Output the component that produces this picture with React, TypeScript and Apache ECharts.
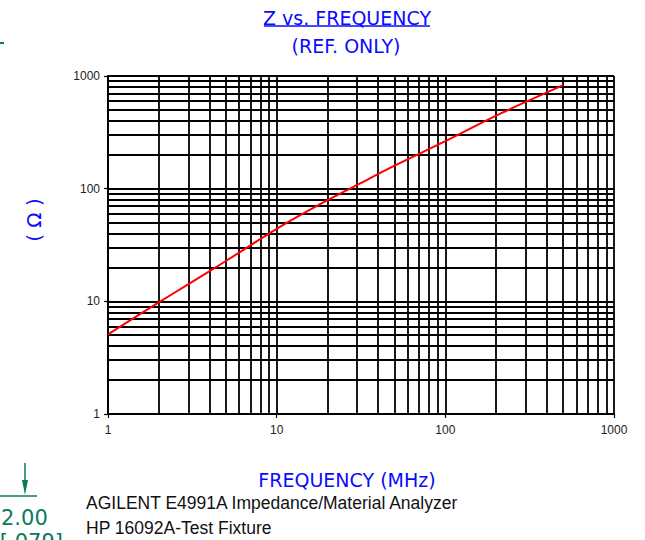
import React, { useEffect, useRef } from "react";
import * as echarts from "echarts";

// Data
const freqMHz = [1, 2, 3, 5, 10, 20, 30, 50, 100, 200, 300, 500];
const impedanceOhm = [5.1, 9.8, 14.2, 22.8, 44, 79, 108, 160, 264, 445, 590, 830];
const minorGridValues = [
  2, 3, 4, 5, 6, 7, 8, 9,
  20, 30, 40, 50, 60, 70, 80, 90,
  200, 300, 400, 500, 600, 700, 800, 900,
];
const xTickLabels = ["1", "10", "100", "1000"];
const yTickLabels = ["1", "10", "100", "1000"];

const titleText = "Z vs. FREQUENCY";
const subTitleText = "(REF. ONLY)";
const xName = "FREQUENCY (MHz)";
const yName = "( Ω )";
const note1 = "AGILENT E4991A Impedance/Material Analyzer";
const note2 = "HP 16092A-Test Fixture";

const BLUE = "#0a0aff";
const GREEN = "#0b7a5c";
const GRID_W = 1.8;

export default function App() {
  const ref = useRef<HTMLDivElement>(null);

  useEffect(() => {
    if (!ref.current) return;
    const chart = echarts.init(ref.current, undefined, { renderer: "svg" });
    const fmt = (v: number) => {
      const s = String(Math.round(v));
      return xTickLabels.includes(s) || yTickLabels.includes(s) ? s : "";
    };
    const markData = [
      ...minorGridValues.map((v) => ({ xAxis: v })),
      ...minorGridValues.map((v) => ({ yAxis: v })),
    ];
    const labelStyle = {
      fontSize: 12,
      fontFamily: "Liberation Sans, Arial, sans-serif",
      color: "#222",
      formatter: fmt,
    };
    const option: any = {
      animation: false,
      grid: { left: 108, right: 31, top: 76, bottom: 126, containLabel: false },
      xAxis: {
        type: "log",
        logBase: 10,
        min: 1,
        max: 1000,
        axisLine: { show: true, onZero: false, lineStyle: { color: "#000", width: 2 } },
        axisTick: { show: true, length: 4, lineStyle: { color: "#000", width: 1.2 } },
        axisLabel: { ...labelStyle, margin: 10 },
        splitLine: { show: true, lineStyle: { color: "#000", width: GRID_W } },
        minorTick: { show: false },
        minorSplitLine: { show: false },
      },
      yAxis: {
        type: "log",
        logBase: 10,
        min: 1,
        max: 1000,
        axisLine: { show: true, onZero: false, lineStyle: { color: "#000", width: 2 } },
        axisTick: { show: true, length: 4, lineStyle: { color: "#000", width: 1.2 } },
        axisLabel: { ...labelStyle, margin: 8 },
        splitLine: { show: true, lineStyle: { color: "#000", width: GRID_W } },
        minorTick: { show: false },
        minorSplitLine: { show: false },
      },
      series: [
        {
          type: "line",
          data: freqMHz.map((f, i) => [f, impedanceOhm[i]]),
          showSymbol: false,
          symbol: "none",
          smooth: 0.3,
          z: 5,
          lineStyle: { color: "#ff0000", width: 2 },
          itemStyle: { color: "#ff0000" },
          markLine: {
            silent: true,
            symbol: ["none", "none"],
            label: { show: false },
            emphasis: { disabled: true },
            lineStyle: { color: "#000", width: GRID_W, type: "solid" },
            data: markData,
            z: 1,
          },
        },
      ],
      graphic: [
        {
          type: "text",
          x: 347,
          y: 17.5,
          style: {
            text: titleText,
            fill: BLUE,
            fontSize: 19,
            fontFamily: "DejaVu Sans",
            align: "center",
            verticalAlign: "middle",
            textAlign: "center",
            textVerticalAlign: "middle",
          },
        },
        {
          type: "line",
          shape: { x1: 264, y1: 26, x2: 430, y2: 26 },
          style: { stroke: BLUE, lineWidth: 1.4 },
        },
        {
          type: "text",
          x: 346,
          y: 45.5,
          style: {
            text: subTitleText,
            fill: BLUE,
            fontSize: 19,
            fontFamily: "DejaVu Sans",
            align: "center",
            verticalAlign: "middle",
            textAlign: "center",
            textVerticalAlign: "middle",
          },
        },
        {
          type: "text",
          x: 347,
          y: 480,
          style: {
            text: xName,
            fill: BLUE,
            fontSize: 19,
            fontFamily: "DejaVu Sans",
            align: "center",
            verticalAlign: "middle",
            textAlign: "center",
            textVerticalAlign: "middle",
          },
        },
        {
          type: "text",
          x: 34,
          y: 220,
          rotation: Math.PI / 2,
          style: {
            text: yName,
            fill: BLUE,
            fontSize: 20,
            fontFamily: "DejaVu Sans",
            align: "center",
            verticalAlign: "middle",
            textAlign: "center",
            textVerticalAlign: "middle",
          },
        },
        {
          type: "text",
          x: 86,
          y: 502.5,
          style: {
            text: note1,
            fill: "#111",
            fontSize: 17.5,
            fontFamily: "Liberation Sans, Arial, sans-serif",
            align: "left",
            verticalAlign: "middle",
            textAlign: "left",
            textVerticalAlign: "middle",
          },
        },
        {
          type: "text",
          x: 86,
          y: 528,
          style: {
            text: note2,
            fill: "#111",
            fontSize: 17.5,
            fontFamily: "Liberation Sans, Arial, sans-serif",
            align: "left",
            verticalAlign: "middle",
            textAlign: "left",
            textVerticalAlign: "middle",
          },
        },
        // fragments of the surrounding drawing (green dimension marks)
        {
          type: "line",
          shape: { x1: 0, y1: 43, x2: 4, y2: 43 },
          style: { stroke: GREEN, lineWidth: 2 },
        },
        {
          type: "line",
          shape: { x1: 25, y1: 463, x2: 25, y2: 484 },
          style: { stroke: GREEN, lineWidth: 1.5 },
        },
        {
          type: "polygon",
          shape: { points: [[22, 480], [28, 480], [25, 495]] },
          style: { fill: GREEN },
        },
        {
          type: "line",
          shape: { x1: 0, y1: 496, x2: 37, y2: 496 },
          style: { stroke: GREEN, lineWidth: 1.5 },
        },
        {
          type: "text",
          x: 1,
          y: 517.5,
          style: {
            text: "2.00",
            fill: GREEN,
            fontSize: 21,
            fontFamily: "DejaVu Sans",
            align: "left",
            verticalAlign: "middle",
            textAlign: "left",
            textVerticalAlign: "middle",
          },
        },
        {
          type: "text",
          x: 63,
          y: 542,
          style: {
            text: "[.079]",
            fill: GREEN,
            fontSize: 21,
            fontFamily: "DejaVu Sans",
            align: "right",
            verticalAlign: "middle",
            textAlign: "right",
            textVerticalAlign: "middle",
          },
        },
      ],
    };
    chart.setOption(option);
    return () => chart.dispose();
  }, []);

  return (
    <div
      ref={ref}
      style={{ position: "absolute", left: 0, top: 0, width: 645, height: 540, background: "#fff" }}
    />
  );
}
